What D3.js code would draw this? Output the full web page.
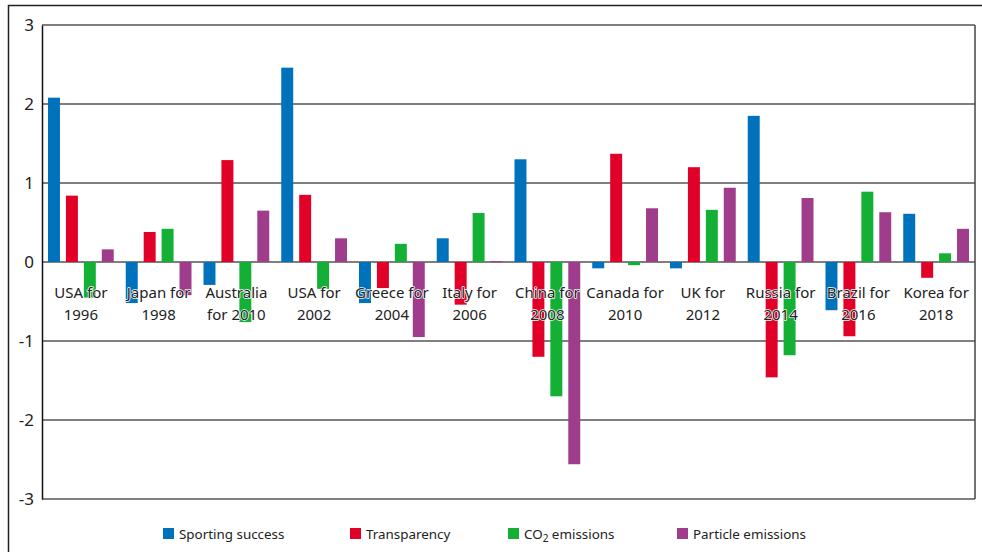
<!DOCTYPE html>
<html lang="en">
<head>
<meta charset="UTF-8">
<title>Olympic hosts</title>
<script src="https://d3js.org/d3.v7.min.js"></script>
<style>
    body { margin: 0; padding: 0; background: #fff; }
    svg { display: block; font-family: "Noto Sans", "Open Sans", sans-serif; }
</style>
</head>
<body>
<div id="chart"></div>
<script>
const categories = [
    ["USA for", "1996"], ["Japan for", "1998"], ["Australia", "for 2010"], ["USA for", "2002"],
    ["Greece for", "2004"], ["Italy for", "2006"], ["China for", "2008"], ["Canada for", "2010"],
    ["UK for", "2012"], ["Russia for", "2014"], ["Brazil for", "2016"], ["Korea for", "2018"]
];
const seriesNames = ["Sporting success", "Transparency", "CO2 emissions", "Particle emissions"];
const seriesColors = ["#0071bb", "#e10027", "#13b035", "#a03c8c"];
const sporting     = [2.08, -0.52, -0.29, 2.46, -0.52, 0.30, 1.30, -0.08, -0.08, 1.85, -0.61, 0.61];
const transparency = [0.84, 0.38, 1.29, 0.85, -0.33, -0.54, -1.20, 1.37, 1.20, -1.46, -0.94, -0.20];
const co2          = [-0.45, 0.42, -0.76, -0.34, 0.23, 0.62, -1.70, -0.04, 0.66, -1.18, 0.89, 0.11];
const particle     = [0.16, -0.42, 0.65, 0.30, -0.95, 0.01, -2.56, 0.68, 0.94, 0.81, 0.63, 0.42];
const yTicks = [3, 2, 1, 0, -1, -2, -3];

const series = [sporting, transparency, co2, particle];
const W = 982, H = 552;
const margin = {left: 42, right: 7, top: 25, bottom: 53};

const svg = d3.select("#chart").append("svg")
    .attr("width", W).attr("height", H);

// outer frame
svg.append("path")
    .attr("d", `M8.5,${H} V5.5 H${W}`)
    .attr("fill", "none").attr("stroke", "#222").attr("stroke-width", 1.5);

const x0 = d3.scaleBand()
    .domain(d3.range(categories.length))
    .range([margin.left, W - margin.right]);
const x1 = d3.scaleBand()
    .domain(d3.range(seriesNames.length))
    .range([6, x0.bandwidth() - 6])
    .paddingInner(0.333);
const y = d3.scaleLinear()
    .domain([-3, 3])
    .range([H - margin.bottom, margin.top]);

// gridlines
svg.append("g").selectAll("line")
    .data(yTicks)
    .join("line")
    .attr("x1", margin.left).attr("x2", W - margin.right)
    .attr("y1", d => y(d)).attr("y2", d => y(d))
    .attr("stroke", "#7f7f7f").attr("stroke-width", 2);

// right border
svg.append("line")
    .attr("x1", W - margin.right).attr("x2", W - margin.right)
    .attr("y1", y(3)).attr("y2", y(-3))
    .attr("stroke", "#444").attr("stroke-width", 1.5);

// y axis
const yAxis = d3.axisLeft(y).tickValues(yTicks).tickSize(0).tickPadding(8)
    .tickFormat(d => d < 0 ? "-" + Math.abs(d) : d);
const ya = svg.append("g")
    .attr("transform", `translate(${margin.left},0)`)
    .call(yAxis);
ya.select(".domain").attr("stroke", "#111").attr("stroke-width", 1.5);
ya.selectAll("text")
    .attr("font-size", 17).attr("fill", "#222")
    .attr("font-family", "'Noto Sans', sans-serif");

// bars
const groups = svg.append("g").selectAll("g")
    .data(categories.map((c, i) => i))
    .join("g")
    .attr("transform", i => `translate(${x0(i)},0)`);

groups.selectAll("rect")
    .data(i => series.map((s, k) => ({k, v: s[i]})))
    .join("rect")
    .attr("x", d => x1(d.k))
    .attr("width", x1.bandwidth())
    .attr("y", d => y(Math.max(0, d.v)))
    .attr("height", d => Math.max(1, Math.abs(y(d.v) - y(0))))
    .attr("fill", d => seriesColors[d.k]);

// category labels, white halo over bars
const labels = svg.append("g").selectAll("text")
    .data(categories)
    .join("text")
    .attr("x", (d, i) => x0(i) + x0.bandwidth() / 2)
    .attr("y", 298)
    .attr("text-anchor", "middle")
    .attr("font-size", 15)
    .attr("fill", "#222")
    .attr("stroke", "#fff").attr("stroke-width", 1.5)
    .attr("paint-order", "stroke")
    .attr("stroke-linejoin", "round");
labels.selectAll("tspan")
    .data(d => d)
    .join("tspan")
    .attr("x", function() { return this.parentNode.getAttribute("x"); })
    .attr("dy", (d, j) => j === 0 ? 0 : 21.5)
    .text(d => d);

// legend
const legendX = [163, 350, 508, 677];
const legend = svg.append("g").selectAll("g")
    .data(seriesNames)
    .join("g")
    .attr("transform", (d, i) => `translate(${legendX[i]},528)`);
legend.append("rect")
    .attr("width", 11).attr("height", 11)
    .attr("fill", (d, i) => seriesColors[i]);
const lt = legend.append("text")
    .attr("x", 16).attr("y", 11)
    .attr("font-size", 13.4).attr("fill", "#222");
lt.each(function(d) {
    const t = d3.select(this);
    if (d.startsWith("CO2")) {
        t.append("tspan").text("CO");
        t.append("tspan").attr("font-size", 10).attr("dy", 3).text("2");
        t.append("tspan").attr("dy", -3).text(" emissions");
    } else {
        t.text(d);
    }
});
</script>
</body>
</html>
